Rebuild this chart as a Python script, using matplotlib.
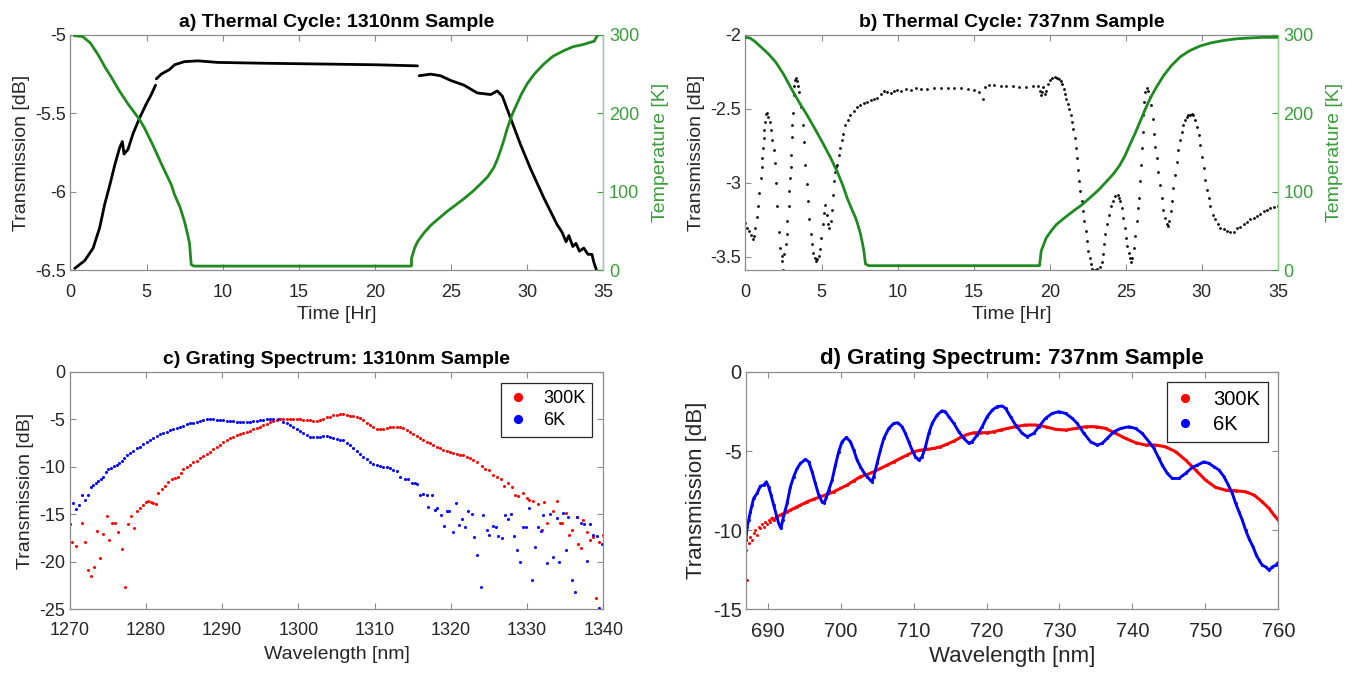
import numpy as np
import matplotlib
matplotlib.use("Agg")
import matplotlib.pyplot as plt
from matplotlib.ticker import FuncFormatter

plt.rcParams["font.family"] = ["Liberation Sans", "DejaVu Sans"]
plt.rcParams["axes.unicode_minus"] = False

# -----------------------------
# a) thermal cycle, 1310nm sample (NaN = gap in the record)
# -----------------------------
a_time = [0.28, 0.94, 1.49, 1.92, 2.25, 2.58, 2.91, 3.23, 3.41, 3.52, 3.78, 4.11, 4.54, 4.98,
          5.31, 5.59, np.nan, 5.64, 5.96, 6.51, 6.84, 7.49, 8.37, 9.02, 9.68, 12.5, 17.1,
          20.0, 22.79, np.nan, 22.9, 23.66, 24.3, 24.97, 25.84, 26.72, 27.6, 28.03, 28.36,
          28.9, 29.56, 30.2, 31.09, 31.96, 32.29, 32.55, 32.73, 32.99, 33.2, 33.43, 33.71,
          33.99, 34.25, 34.37, 34.58]
a_trans = [-6.49, -6.44, -6.36, -6.23, -6.08, -5.96, -5.83, -5.72, -5.68, -5.76, -5.73, -5.63,
           -5.53, -5.44, -5.38, -5.32, np.nan, -5.28, -5.25, -5.22, -5.19, -5.17, -5.165, -5.17,
           -5.175, -5.18, -5.186, -5.19, -5.197, np.nan, -5.26, -5.25, -5.26, -5.29, -5.32,
           -5.37, -5.38, -5.357, -5.39, -5.53, -5.70, -5.85, -6.04, -6.21, -6.26, -6.32, -6.28,
           -6.35, -6.33, -6.38, -6.36, -6.40, -6.40, -6.45, -6.51]
a_temp_time = [0.28, 0.8, 1.3, 1.81, 2.3, 2.69, 3.2, 3.78, 4.54, 4.87, 5.4, 5.96, 6.62, 6.84,
               7.2, 7.49, 7.7, 7.82, 7.93, 8.1, 22.39, 22.4, 22.6, 22.79, 23.2, 23.66, 24.2,
               24.75, 25.3, 25.84, 26.4, 26.94, 27.4, 27.81, 28.05, 28.25, 28.5, 28.69, 29.0,
               29.23, 29.6, 30.0, 30.5, 31.09, 31.7, 32.4, 33.0, 33.7, 34.2, 34.4, 34.5, 34.6]
a_temp = [299, 298, 290, 275, 258, 246, 229, 212, 192, 181, 160, 136, 109, 96, 80, 62, 45, 34,
          7, 5, 5, 15, 28, 36, 47, 57, 66, 75, 83, 91, 100, 110, 119, 131, 142, 153, 168, 181,
          198, 208, 224, 238, 251, 263, 273, 280, 285, 288, 291, 292, 296, 299]

# -----------------------------
# b) thermal cycle, 737nm sample
# -----------------------------
b_time = [0.0, 0.12, 0.25, 0.36, 0.47, 0.56, 0.65, 0.74, 0.85, 0.91, 1.00, 1.07, 1.11, 1.16,
          1.20, 1.24, 1.29, 1.35, 1.42, 1.51, 1.60, 1.68, 1.77, 1.86, 1.93, 2.01, 2.10, 2.21,
          2.30, 2.39, 2.43, 2.48, 2.56, 2.63, 2.70, 2.76, 2.83, 2.87, 2.92, 2.96, 3.00, 3.05,
          3.09, 3.14, 3.18, 3.22, 3.27, 3.33, 3.40, 3.47, 3.55, 3.67, 3.75, 3.84, 3.93, 4.02,
          4.10, 4.19, 4.28, 4.37, 4.45, 4.54, 4.63, 4.72, 4.81, 4.90, 4.98, 5.07, 5.16, 5.25,
          5.34, 5.42, 5.51, 5.60, 5.69, 5.75, 5.82, 5.89, 5.95, 6.04, 6.13, 6.22, 6.33, 6.44,
          6.57, 6.72, 6.90, 7.12, 7.34, 7.56, 7.78, 8.00, 8.22, 8.44, 8.66, 8.88, 9.10, 9.32,
          9.54, 9.76, 9.98, 10.20, 10.53, 10.86, 11.19, 11.52, 11.96, 12.40, 12.84, 13.28,
          13.72, 14.16, 14.60, 15.04, 15.37, 15.59, 15.76, 16.03, 16.36, 16.8, 17.13, 17.57,
          18.01, 18.45, 18.89, 19.22, 19.33, 19.40, 19.50, 19.59, 19.66, 19.77, 19.88, 19.99,
          20.17, 20.32, 20.47, 20.60, 20.71, 20.82, 20.91, 20.98, 21.09, 21.18, 21.26, 21.37,
          21.46, 21.55, 21.64, 21.70, 21.79, 21.88, 21.95, 22.01, 22.10, 22.19, 22.28, 22.37,
          22.45, 22.54, 22.63, 22.72, 22.80, 22.96, 23.11, 23.29, 23.42, 23.47, 23.55, 23.66,
          23.77, 23.90, 24.04, 24.17, 24.32, 24.46, 24.57, 24.65, 24.74, 24.83, 24.92, 25.00,
          25.09, 25.18, 25.27, 25.36, 25.44, 25.53, 25.62, 25.71, 25.78, 25.84, 25.91, 25.97,
          26.04, 26.11, 26.15, 26.22, 26.28, 26.37, 26.48, 26.59, 26.68, 26.77, 26.85, 26.94,
          27.03, 27.14, 27.25, 27.36, 27.47, 27.58, 27.69, 27.80, 27.86, 27.95, 28.04, 28.13,
          28.24, 28.35, 28.46, 28.57, 28.68, 28.79, 28.90, 29.01, 29.12, 29.23, 29.34, 29.45,
          29.56, 29.67, 29.78, 29.89, 30.00, 30.11, 30.22, 30.33, 30.44, 30.55, 30.73, 30.88,
          31.03, 31.21, 31.43, 31.65, 31.87, 32.09, 32.31, 32.53, 32.75, 32.97, 33.19, 33.41,
          33.63, 33.85, 34.07, 34.29, 34.51, 34.73, 34.99]
b_trans = [-3.271, -3.304, -3.327, -3.353, -3.383, -3.360, -3.309, -3.233, -3.159, -3.069,
           -2.969, -2.890, -2.834, -2.767, -2.700, -2.644, -2.588, -2.532, -2.526, -2.555,
           -2.588, -2.644, -2.711, -2.779, -2.868, -3.002, -3.159, -3.331, -3.438, -3.494,
           -3.528, -3.591, -3.483, -3.416, -3.349, -3.259, -3.159, -3.058, -2.969, -2.890,
           -2.812, -2.689, -2.611, -2.526, -2.409, -2.342, -2.302, -2.293, -2.309, -2.342,
           -2.387, -2.488, -2.611, -2.723, -2.879, -3.009, -3.125, -3.248, -3.349, -3.416,
           -3.472, -3.506, -3.528, -3.517, -3.494, -3.450, -3.371, -3.282, -3.204, -3.148,
           -3.215, -3.282, -3.304, -3.260, -3.181, -3.081, -2.991, -2.924, -2.890, -2.879,
           -2.812, -2.767, -2.711, -2.667, -2.611, -2.577, -2.544, -2.517, -2.488, -2.472,
           -2.459, -2.450, -2.443, -2.436, -2.427, -2.398, -2.376, -2.383, -2.391, -2.376,
           -2.369, -2.376, -2.365, -2.371, -2.360, -2.365, -2.365, -2.360, -2.360, -2.360,
           -2.360, -2.360, -2.365, -2.369, -2.383, -2.436, -2.353, -2.338, -2.338, -2.342,
           -2.342, -2.347, -2.349, -2.349, -2.347, -2.342, -2.376, -2.409, -2.387, -2.353,
           -2.398, -2.376, -2.331, -2.302, -2.293, -2.286, -2.293, -2.298, -2.309, -2.331,
           -2.365, -2.398, -2.432, -2.465, -2.499, -2.544, -2.588, -2.633, -2.700, -2.767,
           -2.834, -2.913, -2.991, -3.058, -3.125, -3.192, -3.260, -3.327, -3.394, -3.461,
           -3.506, -3.550, -3.584, -3.591, -3.584, -3.573, -3.539, -3.483, -3.416, -3.349,
           -3.282, -3.215, -3.159, -3.121, -3.092, -3.085, -3.103, -3.125, -3.170, -3.237,
           -3.304, -3.371, -3.427, -3.472, -3.506, -3.539, -3.506, -3.438, -3.360, -3.260,
           -3.170, -3.103, -2.991, -2.879, -2.767, -2.655, -2.544, -2.454, -2.387, -2.360,
           -2.376, -2.421, -2.477, -2.566, -2.667, -2.756, -2.834, -2.924, -3.013, -3.103,
           -3.181, -3.237, -3.282, -3.293, -3.260, -3.192, -3.125, -3.036, -2.946, -2.857,
           -2.779, -2.711, -2.655, -2.611, -2.577, -2.555, -2.539, -2.539, -2.532, -2.544,
           -2.577, -2.622, -2.678, -2.745, -2.823, -2.902, -2.980, -3.047, -3.103, -3.159,
           -3.215, -3.248, -3.282, -3.304, -3.315, -3.327, -3.331, -3.331, -3.309, -3.298,
           -3.282, -3.264, -3.248, -3.237, -3.226, -3.208, -3.192, -3.181, -3.170, -3.166,
           -3.159]
b_temp_time = [0.0, 0.3, 0.6, 1.0, 1.5, 2.0, 2.5, 3.0, 3.5, 4.04, 4.6, 5.14, 5.6, 6.02, 6.4,
               6.68, 7.0, 7.23, 7.4, 7.56, 7.7, 7.78, 7.89, 8.11, 19.33, 19.44, 19.77, 20.1,
               20.43, 21.0, 21.53, 22.1, 22.63, 23.2, 23.73, 24.2, 24.61, 24.95, 25.27, 25.6,
               25.93, 26.25, 26.6, 27.0, 27.48, 28.0, 28.57, 29.2, 29.89, 30.6, 31.43, 32.2,
               32.97, 34.0, 35.0]
b_temp = [297, 296, 292, 285, 276, 265, 250, 232, 215, 198, 179, 160, 143, 126, 108, 92, 77,
          67, 57, 46, 33, 24.5, 7.6, 5.5, 5.5, 24.5, 41, 50, 58, 67, 75, 83, 92, 102, 113, 123,
          134, 146, 160, 174, 189, 204, 219, 233, 248, 261, 272, 280, 286, 290, 293, 295, 296,
          297, 297]

# -----------------------------
# c) grating spectrum, 1310nm sample
# -----------------------------
c_300_wl = [1270.24, 1270.81, 1271.56, 1271.99, 1272.43, 1272.78, 1273.18, 1273.61, 1273.96,
            1274.40, 1274.84, 1275.19, 1275.58, 1275.93, 1276.37, 1276.81, 1277.24, 1277.68,
            1277.99, 1278.42, 1278.77, 1279.21, 1279.65, 1280.00, 1280.31, 1280.61, 1280.96,
            1281.27, 1281.62, 1282.05, 1282.49, 1282.93, 1283.37, 1283.80, 1284.24, 1284.55,
            1284.90, 1285.33, 1285.77, 1286.21, 1286.65, 1287.08, 1287.52, 1287.96, 1288.40,
            1288.83, 1289.27, 1289.71, 1290.15, 1290.58, 1291.02, 1291.46, 1291.89, 1292.33,
            1292.77, 1293.21, 1293.64, 1294.08, 1294.52, 1294.96, 1295.39, 1295.83, 1296.27,
            1296.71, 1297.14, 1297.58, 1298.02, 1298.46, 1298.89, 1299.33, 1299.77, 1300.21,
            1300.64, 1301.08, 1301.52, 1301.96, 1302.39, 1302.83, 1303.27, 1303.71, 1304.15,
            1304.58, 1305.02, 1305.46, 1305.90, 1306.33, 1306.77, 1307.21, 1307.65, 1308.08,
            1308.52, 1308.96, 1309.40, 1309.83, 1310.27, 1310.71, 1311.15, 1311.58, 1312.02,
            1312.46, 1312.90, 1313.33, 1313.77, 1314.21, 1314.65, 1315.08, 1315.52, 1315.96,
            1316.40, 1316.83, 1317.27, 1317.71, 1318.15, 1318.58, 1319.02, 1319.46, 1319.90,
            1320.33, 1320.77, 1321.21, 1321.65, 1322.08, 1322.52, 1322.96, 1323.40, 1324.05,
            1324.49, 1325.06, 1325.50, 1326.02, 1326.55, 1326.98, 1327.55, 1327.99, 1328.42,
            1328.86, 1329.43, 1329.95, 1330.30, 1330.74, 1331.48, 1331.92, 1332.27, 1332.66,
            1333.36, 1333.89, 1334.32, 1334.63, 1335.11, 1335.55, 1335.86, 1336.51, 1336.73,
            1337.04, 1337.39, 1337.91, 1338.26, 1338.70, 1339.05, 1339.49, 1340.01]
c_300_db = [-17.96, -18.31, -15.93, -17.96, -20.83, -21.53, -20.55, -16.80, -19.60, -17.05,
            -15.16, -17.68, -15.93, -15.86, -16.91, -18.66, -22.69, -16.00, -15.16, -16.45,
            -14.70, -14.35, -14.00, -13.65, -13.55, -13.65, -13.83, -13.93, -12.71, -12.36,
            -12.01, -11.55, -11.24, -11.20, -11.03, -10.68, -10.26, -10.05, -9.80, -9.52,
            -9.35, -9.10, -8.85, -8.64, -8.40, -8.16, -7.88, -7.66, -7.38, -7.17, -7.00, -6.82,
            -6.65, -6.54, -6.47, -6.33, -6.19, -6.05, -5.95, -5.77, -5.63, -5.49, -5.32, -5.21,
            -5.11, -5.00, -4.98, -4.97, -4.97, -4.97, -4.98, -5.00, -5.04, -5.07, -5.10, -5.14,
            -5.12, -5.07, -4.95, -4.79, -4.72, -4.58, -4.52, -4.44, -4.44, -4.50, -4.60, -4.66,
            -4.72, -4.90, -5.07, -5.33, -5.60, -5.80, -5.98, -6.00, -5.98, -5.90, -5.84, -5.80,
            -5.77, -5.85, -5.95, -6.10, -6.30, -6.52, -6.75, -6.96, -7.17, -7.35, -7.52, -7.70,
            -7.87, -8.05, -8.22, -8.35, -8.47, -8.56, -8.64, -8.70, -8.75, -8.92, -9.10, -9.27,
            -9.45, -9.91, -10.26, -10.33, -10.85, -11.03, -11.31, -12.01, -11.73, -12.15,
            -12.95, -13.06, -12.78, -13.30, -13.48, -13.55, -13.90, -16.70, -13.65, -15.93,
            -14.70, -13.55, -15.86, -15.86, -14.81, -17.15, -16.70, -15.23, -18.10, -18.55,
            -15.58, -16.91, -17.68, -17.40, -23.81, -17.96, -17.22]
c_6_wl = [1270.03, 1270.46, 1270.81, 1271.21, 1271.60, 1271.99, 1272.39, 1272.78, 1273.09,
          1273.44, 1273.74, 1274.05, 1274.40, 1274.75, 1275.06, 1275.41, 1275.80, 1276.15,
          1276.50, 1276.81, 1277.11, 1277.46, 1277.90, 1278.34, 1278.77, 1279.21, 1279.65,
          1280.09, 1280.52, 1280.96, 1281.40, 1281.84, 1282.27, 1282.71, 1283.15, 1283.58,
          1284.02, 1284.46, 1284.90, 1285.33, 1285.77, 1286.21, 1286.65, 1287.08, 1287.52,
          1287.96, 1288.40, 1288.83, 1289.27, 1289.71, 1290.15, 1290.58, 1291.02, 1291.46,
          1291.89, 1292.33, 1292.77, 1293.21, 1293.64, 1294.08, 1294.52, 1294.96, 1295.39,
          1295.83, 1296.27, 1296.71, 1297.36, 1298.02, 1298.45, 1298.89, 1299.33, 1299.77,
          1300.21, 1300.64, 1301.08, 1301.52, 1301.96, 1302.39, 1302.83, 1303.27, 1303.71,
          1304.14, 1304.58, 1305.02, 1305.46, 1305.90, 1306.33, 1306.77, 1307.21, 1307.65,
          1308.08, 1308.52, 1308.96, 1309.40, 1309.83, 1310.27, 1310.71, 1311.15, 1311.58,
          1312.02, 1312.46, 1312.90, 1313.33, 1313.99, 1314.43, 1314.86, 1315.30, 1315.61,
          1315.96, 1316.40, 1316.83, 1317.05, 1317.49, 1317.93, 1318.23, 1318.71, 1319.11,
          1319.46, 1319.81, 1320.33, 1320.68, 1321.12, 1321.43, 1321.86, 1322.30, 1322.74,
          1323.05, 1323.48, 1323.92, 1324.27, 1324.71, 1325.06, 1325.50, 1325.93, 1326.24,
          1326.68, 1327.11, 1327.55, 1327.90, 1328.29, 1328.73, 1329.08, 1329.52, 1329.87,
          1330.30, 1330.61, 1331.05, 1331.48, 1331.79, 1332.14, 1332.66, 1333.01, 1333.45,
          1333.89, 1334.24, 1334.67, 1335.11, 1335.42, 1335.86, 1336.29, 1336.60, 1337.04,
          1337.48, 1337.83, 1338.26, 1338.70, 1339.14, 1339.49, 1339.88]
c_6_db = [-16.00, -13.76, -14.46, -14.04, -12.95, -13.44, -12.99, -12.15, -11.87, -11.66,
          -11.45, -11.24, -11.03, -10.54, -10.26, -10.08, -9.91, -9.80, -9.63, -9.34, -9.03,
          -8.75, -8.50, -8.29, -8.05, -7.87, -7.63, -7.38, -7.17, -6.96, -6.75, -6.58, -6.44,
          -6.30, -6.12, -6.02, -5.91, -5.77, -5.67, -5.53, -5.42, -5.35, -5.25, -5.14, -5.07,
          -5.00, -4.99, -5.00, -5.03, -5.07, -5.10, -5.14, -5.18, -5.21, -5.24, -5.25, -5.25,
          -5.25, -5.22, -5.18, -5.12, -5.07, -5.02, -4.97, -4.95, -4.93, -5.00, -5.25, -5.42,
          -5.60, -5.82, -6.05, -6.27, -6.47, -6.65, -6.82, -6.88, -6.89, -6.80, -6.75, -6.78,
          -6.82, -6.95, -7.10, -7.17, -7.17, -7.45, -7.70, -8.00, -8.29, -8.60, -8.92, -9.20,
          -9.45, -9.65, -9.80, -9.90, -9.98, -10.05, -10.15, -10.28, -10.40, -11.03, -11.31,
          -11.31, -11.73, -11.73, -11.80, -12.95, -12.85, -12.95, -14.25, -12.95, -14.53,
          -14.35, -15.05, -16.21, -14.63, -14.60, -16.91, -13.83, -16.10, -15.51, -16.35,
          -14.60, -14.98, -17.40, -19.32, -22.65, -15.05, -16.63, -17.15, -16.21, -16.35,
          -17.26, -17.50, -15.05, -15.51, -15.01, -17.26, -18.80, -20.00, -16.38, -16.35,
          -14.35, -21.95, -18.45, -16.38, -16.80, -15.05, -20.13, -14.95, -19.53, -15.40,
          -20.02, -14.81, -18.80, -15.30, -21.95, -23.14, -15.30, -15.93, -16.00, -19.95,
          -16.00, -17.19, -17.33, -24.86, -18.10]

# -----------------------------
# d) grating spectrum, 737nm sample
# -----------------------------
d_300_wl = [687.03, 687.17, 687.40, 687.63, 687.86, 688.08, 688.31, 688.54, 688.77, 689.00,
            689.23, 689.46, 689.68, 689.91, 690.14, 690.37, 690.60, 690.83, 691.28, 691.74,
            692.20, 692.66, 693.12, 693.57, 694.03, 694.49, 694.94, 695.40, 696.32, 697.23,
            698.14, 699.06, 699.97, 700.89, 701.80, 702.72, 703.63, 704.54, 705.46, 706.37,
            707.29, 708.20, 709.12, 710.03, 710.95, 711.86, 712.78, 713.69, 714.60, 715.52,
            716.43, 717.35, 718.26, 719.17, 720.09, 721.00, 721.92, 722.84, 723.98, 725.35,
            726.72, 728.09, 729.47, 730.83, 732.21, 733.58, 734.95, 736.32, 737.69, 739.06,
            740.43, 741.81, 743.18, 744.55, 745.92, 747.29, 748.66, 750.03, 751.41, 752.78,
            754.15, 755.52, 756.67, 757.81, 758.73, 759.41, 760.00]
d_300_db = [-11.27, -13.16, -10.84, -10.42, -10.63, -10.21, -10.00, -10.32, -9.79, -9.89, -9.58,
            -9.79, -9.47, -9.58, -9.37, -9.47, -9.26, -9.37, -9.16, -9.05, -8.94, -8.84, -8.73,
            -8.63, -8.52, -8.42, -8.31, -8.21, -8.04, -7.89, -7.74, -7.57, -7.36, -7.15, -6.88,
            -6.62, -6.48, -6.31, -6.10, -5.89, -5.68, -5.46, -5.25, -5.04, -4.94, -4.89, -4.83,
            -4.73, -4.56, -4.37, -4.14, -3.95, -3.84, -3.84, -3.84, -3.78, -3.67, -3.57, -3.46,
            -3.35, -3.35, -3.46, -3.63, -3.67, -3.57, -3.46, -3.46, -3.57, -3.88, -4.20, -4.47,
            -4.62, -4.62, -4.73, -5.04, -5.57, -6.20, -6.84, -7.30, -7.47, -7.51, -7.57, -7.78,
            -8.21, -8.63, -9.05, -9.37]
d_6_wl = [687.03, 687.17, 687.40, 687.63, 687.86, 688.08, 688.54, 689.00, 689.46, 689.82,
          690.14, 690.46, 690.83, 691.19, 691.51, 691.83, 692.06, 692.29, 692.66, 693.12,
          693.57, 694.03, 694.49, 695.17, 695.63, 696.09, 696.54, 697.00, 697.46, 697.78,
          698.05, 698.37, 698.83, 699.29, 699.74, 700.20, 700.80, 701.35, 701.80, 702.26,
          702.72, 703.26, 703.63, 704.09, 704.32, 704.54, 705.00, 705.46, 705.92, 706.60,
          707.29, 707.83, 708.43, 708.88, 709.34, 709.80, 710.26, 710.72, 711.17, 711.63,
          712.09, 712.55, 713.23, 713.92, 714.37, 714.83, 715.52, 716.20, 716.89, 717.58,
          718.03, 718.72, 719.40, 720.09, 720.78, 721.46, 722.15, 722.61, 723.29, 723.98,
          724.89, 725.58, 726.49, 727.18, 728.09, 729.01, 729.92, 730.83, 731.75, 732.43,
          733.35, 734.26, 735.18, 735.86, 736.55, 737.46, 738.38, 739.52, 740.43, 741.35,
          742.26, 742.95, 743.63, 744.09, 744.78, 745.46, 746.38, 747.29, 748.21, 748.89,
          749.81, 750.49, 751.18, 751.87, 752.55, 753.15, 753.70, 754.15, 754.61, 755.07,
          755.52, 755.98, 756.53, 756.99, 757.36, 757.81, 758.27, 758.73, 759.18, 759.64,
          760.10]
d_6_db = [-10.63, -9.79, -9.37, -8.84, -8.42, -7.99, -7.68, -7.22, -7.15, -6.94, -7.26, -7.78,
          -8.42, -9.05, -9.58, -9.89, -9.37, -8.94, -8.31, -7.26, -6.62, -6.10, -5.78, -5.53,
          -5.68, -6.31, -7.05, -7.78, -8.21, -8.27, -7.89, -7.47, -6.84, -5.89, -5.04, -4.41,
          -4.14, -4.41, -4.94, -5.57, -5.99, -6.41, -6.62, -6.84, -6.94, -6.62, -5.78, -4.94,
          -4.20, -3.57, -3.25, -3.21, -3.46, -3.88, -4.41, -4.94, -5.36, -5.57, -5.36, -4.73,
          -3.88, -3.25, -2.72, -2.45, -2.51, -2.83, -3.25, -3.78, -4.20, -4.51, -4.41, -3.99,
          -3.46, -2.83, -2.41, -2.19, -2.15, -2.30, -2.83, -3.35, -3.88, -4.09, -3.88, -3.46,
          -2.93, -2.62, -2.51, -2.62, -2.93, -3.25, -3.88, -4.41, -4.62, -4.51, -4.20, -3.78,
          -3.57, -3.46, -3.57, -3.88, -4.41, -4.83, -5.46, -5.89, -6.41, -6.73, -6.73, -6.41,
          -6.03, -5.89, -5.68, -5.78, -5.99, -6.20, -6.62, -7.15, -7.68, -8.31, -8.84, -9.37,
          -10.00, -10.53, -11.05, -11.58, -11.90, -12.22, -12.32, -12.53, -12.32, -12.22,
          -12.00]

# -----------------------------
# Style
# -----------------------------
TXT = "#262626"
BOX = "#8c8c8c"
GREEN_LINE = "#1f8a1f"
GREEN_AX = "#3a9e3a"
fmt = FuncFormatter(lambda v, p: f"{v:g}")

fig = plt.figure(figsize=(13.52, 6.73), dpi=100, facecolor="white")


def base_style(ax, fs, right_ticks=True, xpad=8):
    for s in ax.spines.values():
        s.set_color(BOX)
        s.set_linewidth(0.9)
    ax.tick_params(direction="in", top=True, right=right_ticks, length=4, width=0.8,
                   color=BOX, labelcolor=TXT, labelsize=fs)
    ax.tick_params(axis="x", pad=xpad)
    ax.tick_params(axis="y", pad=3)
    ax.xaxis.set_major_formatter(fmt)
    ax.yaxis.set_major_formatter(fmt)


def thermal(rect, title, t, tr, tt, temp, ylim, yticks, black_line):
    ax = fig.add_axes(rect)
    base_style(ax, 13, right_ticks=False, xpad=10)
    if black_line:
        ax.plot(t, tr, color="black", lw=2.0, solid_capstyle="round")
    else:
        ax.plot(t, tr, "o", color="black", ms=2.0, mew=0)
    ax.set_xlim(0, 35)
    ax.set_ylim(*ylim)
    ax.set_xticks(np.arange(0, 36, 5))
    ax.set_yticks(yticks)
    ax.set_xlabel("Time [Hr]", fontsize=14, color=TXT, labelpad=4)
    ax.set_ylabel("Transmission [dB]", fontsize=14, color=TXT, labelpad=4)
    ax.set_title(title, fontsize=14, fontweight="bold", pad=6)

    ax2 = ax.twinx()
    ax2.plot(tt, temp, color=GREEN_LINE, lw=2.0)
    ax2.set_ylim(0, 300)
    ax2.set_yticks([0, 100, 200, 300])
    ax2.yaxis.set_major_formatter(fmt)
    for s in ax2.spines.values():
        s.set_visible(False)
    ax2.spines["right"].set_visible(True)
    ax2.spines["right"].set_color("#8fcf8f")
    ax2.tick_params(direction="in", length=4, width=0.8, colors=GREEN_AX, labelsize=13, pad=4)
    ax2.set_ylabel("Temperature [K]", fontsize=14, color=GREEN_AX, labelpad=9)
    return ax


thermal([0.0521, 0.5988, 0.3942, 0.3492], "a) Thermal Cycle: 1310nm Sample",
        a_time, a_trans, a_temp_time, a_temp, (-6.5, -5), [-6.5, -6, -5.5, -5], True)
thermal([0.5514, 0.5988, 0.3938, 0.3492], "b) Thermal Cycle: 737nm Sample",
        b_time, b_trans, b_temp_time, b_temp, (-3.59, -2), [-3.5, -3, -2.5, -2], False)

# c) spectrum
axc = fig.add_axes([0.0516, 0.0947, 0.3946, 0.3526])
base_style(axc, 13, xpad=9)
axc.plot(c_300_wl, c_300_db, "o", color="red", ms=2.2, mew=0, label="300K")
axc.plot(c_6_wl, c_6_db, "o", color="blue", ms=2.2, mew=0, label="6K")
axc.set_xlim(1270, 1340)
axc.set_ylim(-25, 0)
axc.set_xticks(np.arange(1270, 1341, 10))
axc.set_yticks(np.arange(-25, 1, 5))
axc.set_xlabel("Wavelength [nm]", fontsize=14, color=TXT, labelpad=5)
axc.set_ylabel("Transmission [dB]", fontsize=14, color=TXT, labelpad=4)
axc.set_title("c) Grating Spectrum: 1310nm Sample", fontsize=14, fontweight="bold", pad=6)
leg = axc.legend(loc="upper right", fontsize=13, markerscale=3.0, fancybox=False,
                 edgecolor=TXT, framealpha=1, handlelength=1.0, handletextpad=0.9,
                 borderaxespad=0.6, borderpad=0.4, labelspacing=0.3)
leg.get_frame().set_linewidth(0.9)

# d) spectrum
axd = fig.add_axes([0.5516, 0.0947, 0.3939, 0.3526])
base_style(axd, 14.5, xpad=9)
d300w = np.array(d_300_wl)
d300v = np.array(d_300_db)
smooth = d300w > 690.5
axd.plot(d300w[smooth], d300v[smooth], color="red", lw=2.2)
axd.plot(d300w, d300v, "o", color="red", ms=2.2, mew=0, label="300K")
axd.plot(d_6_wl, d_6_db, color="blue", lw=2.1)
axd.plot(d_6_wl, d_6_db, "o", color="blue", ms=2.2, mew=0, label="6K")
axd.set_xlim(687, 760)
axd.set_ylim(-15, 0)
axd.set_xticks(np.arange(690, 761, 10))
axd.set_yticks([-15, -10, -5, 0])
axd.set_xlabel("Wavelength [nm]", fontsize=16, color=TXT, labelpad=4)
axd.set_ylabel("Transmission [dB]", fontsize=16, color=TXT, labelpad=4)
axd.set_title("d) Grating Spectrum: 737nm Sample", fontsize=16, fontweight="bold", pad=6)
leg = axd.legend(loc="upper right", fontsize=14.5, markerscale=3.0, fancybox=False,
                 edgecolor=TXT, framealpha=1, handlelength=1.0, handletextpad=0.9,
                 borderaxespad=0.5, borderpad=0.4, labelspacing=0.3)
leg.get_frame().set_linewidth(0.9)

fig.savefig("out.png", dpi=100, facecolor="white")
